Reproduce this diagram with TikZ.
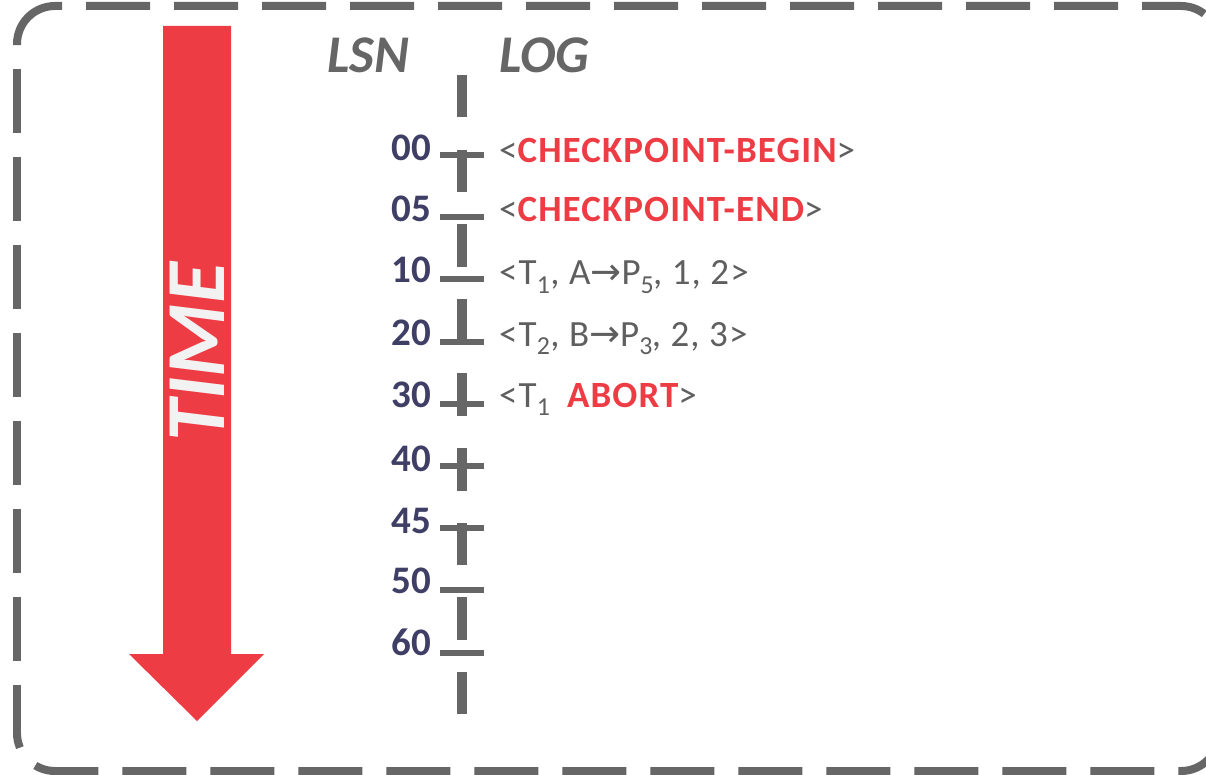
\documentclass[tikz,border=0pt]{standalone}
\usepackage{fontspec}
\setmainfont{Carlito}
\newfontfamily\arrowfont{DejaVu Sans}
\definecolor{linegray}{HTML}{666666}
\definecolor{textgray}{HTML}{5F5F5F}
\definecolor{logred}{HTML}{EE3C44}
\definecolor{navy}{HTML}{3F3F66}
\definecolor{timewhite}{HTML}{F2F2F2}
\newcommand{\redb}[1]{{\bfseries\addfontfeature{LetterSpace=3}\color{logred}#1}}
\begin{document}
\begin{tikzpicture}[x=1pt,y=-1pt,
  border/.style={draw=linegray, line width=8pt, rounded corners=38pt},
  axisline/.style={draw=linegray, line width=10pt, dash pattern=on 42.5pt off 32.1pt},
  ticksty/.style={draw=linegray, line width=5.5pt},
  lsn/.style={anchor=base east, inner sep=0pt, text=navy, font=\fontsize{39}{42}\selectfont\bfseries},
  logtxt/.style={anchor=base west, inner sep=0pt, text=textgray, font=\fontsize{37}{40}\selectfont\addfontfeature{LetterSpace=3}},
  hdr/.style={anchor=base west, inner sep=0pt, text=linegray, font=\fontsize{53}{56}\selectfont\bfseries\itshape}]
\useasboundingbox (0,0) rectangle (1206,775);
% border
\draw[border] (17,45) -- (17,6) -- (62,6);
\draw[border, dash pattern=on 64pt off 24pt, dash phase=64pt] (62,6) -- (1219,6) -- (1219,400);
\draw[border, dash pattern=on 64pt off 24pt, dash phase=16pt] (17,733) -- (17,45);
\draw[border, dash pattern=on 64pt off 24pt, dash phase=49pt] (17,733) -- (17,771) -- (1219,771) -- (1219,400);
% time arrow
\fill[logred] (163,26) -- (231,26) -- (231,654) -- (264,654) -- (197,721) -- (129,654) -- (163,654) -- cycle;
\node[rotate=90, inner sep=0pt, text=timewhite, font=\fontsize{84}{88}\selectfont\bfseries\itshape] (time) at (197,352) {TIME};
% headers
\node[hdr] (lsnhdr) at (327,73) {LSN};
\node[hdr] (loghdr) at (499,73) {LOG};
% axis
\coordinate (axtop) at (462,75);
\coordinate (axbot) at (462,715);
\draw[axisline] (axtop) -- (axbot);
\foreach \y in {155,217,279,342,404,466,528,590,653}
  \draw[ticksty] (440,\y) -- (484,\y);
% LSN labels
\foreach \n/\b in {00/161,05/222,10/283,20/345,30/407,40/471,45/533,50/593,60/655}
  \node[lsn] (lsn\n) at (431,\b) {\n};
% log entries
\node[logtxt] (log00) at (499,163) {<\redb{CHECKPOINT-BEGIN}>};
\node[logtxt] (log05) at (499,222) {<\redb{CHECKPOINT-END}>};
\node[logtxt] (log10) at (499,285) {<T\textsubscript{1}, A{\arrowfont →}P\textsubscript{5}\kern-0.03em, 1, 2>};
\node[logtxt] (log20) at (499,346) {<T\textsubscript{2}, B{\arrowfont →}P\textsubscript{3}\kern-0.03em, 2, 3>};
\node[logtxt] (log30) at (499,407) {<T\textsubscript{1}\hspace{0.45em}\redb{ABORT}>};
\end{tikzpicture}
\end{document}
